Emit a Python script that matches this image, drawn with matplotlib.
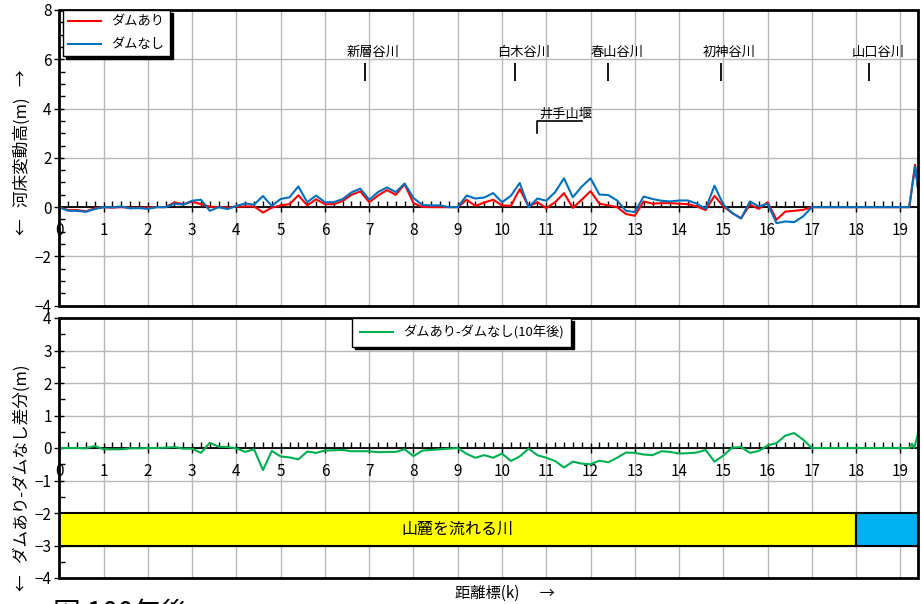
import numpy as np
import matplotlib
matplotlib.use("Agg")
import matplotlib.pyplot as plt
from matplotlib.patches import Rectangle
from matplotlib.ticker import MultipleLocator

plt.rcParams["font.family"] = ["Noto Sans CJK JP", "DejaVu Sans"]
plt.rcParams["axes.unicode_minus"] = True

# distance stations (km), every 200 m
km = list(np.round(np.arange(0, 19.21, 0.2), 1))
km_top = km + [19.33, 19.45]
km_diff = km + [19.26, 19.31, 19.4]

zeros_tail = [0.0] * 11  # 17.2 .. 19.2 km

with_dam = [0.0, -0.12, -0.12, -0.17, -0.05,
            0.0, -0.02, 0.0, -0.03, -0.03,
            -0.02, 0.0, 0.0, 0.19, 0.12,
            0.22, 0.12, 0.02, 0.0, -0.02,
            0.02, 0.03, 0.03, -0.22, -0.02,
            0.07, 0.12, 0.48, 0.07, 0.32,
            0.12, 0.12, 0.25, 0.5, 0.64,
            0.2, 0.47, 0.69, 0.5, 0.93,
            0.16, 0.01, 0.0, 0.0, 0.0,
            0.0, 0.3, 0.05, 0.19, 0.3,
            0.07, 0.05, 0.73, 0.03, 0.2,
            -0.04, 0.2, 0.57, -0.03, 0.3,
            0.65, 0.14, 0.07, 0.0, -0.28,
            -0.35, 0.23, 0.14, 0.16, 0.16,
            0.14, 0.12, 0.03, -0.12, 0.46,
            0.03, -0.24, -0.45, 0.1, -0.07,
            0.2, -0.51, -0.18, -0.15, -0.11,
            0.0] + zeros_tail + [1.72, 0.0]

without_dam = [0.0, -0.15, -0.15, -0.19, -0.08,
               0.0, -0.01, 0.03, -0.05, -0.04,
               -0.07, 0.0, 0.0, 0.14, 0.1,
               0.26, 0.3, -0.15, 0.0, -0.08,
               0.05, 0.15, 0.1, 0.45, 0.05,
               0.33, 0.4, 0.84, 0.2, 0.47,
               0.2, 0.2, 0.33, 0.6, 0.75,
               0.3, 0.61, 0.8, 0.61, 0.96,
               0.37, 0.09, 0.07, 0.07, 0.0,
               0.0, 0.47, 0.35, 0.39, 0.57,
               0.2, 0.46, 0.98, 0.0, 0.35,
               0.26, 0.61, 1.17, 0.4, 0.83,
               1.17, 0.51, 0.49, 0.27, -0.15,
               -0.2, 0.43, 0.33, 0.26, 0.23,
               0.27, 0.27, 0.14, -0.07, 0.87,
               0.1, -0.24, -0.46, 0.23, 0.03,
               0.14, -0.65, -0.58, -0.61, -0.38,
               0.0] + zeros_tail + [1.65, 0.0]

diff = [0.0, 0.0, 0.0, -0.01, 0.06,
        -0.04, -0.04, -0.04, -0.01, -0.01,
        0.0, 0.0, 0.01, 0.03, -0.02,
        -0.02, -0.15, 0.16, 0.04, 0.03,
        -0.01, -0.12, -0.04, -0.68, -0.09,
        -0.26, -0.29, -0.35, -0.11, -0.15,
        -0.08, -0.07, -0.06, -0.1, -0.1,
        -0.1, -0.13, -0.12, -0.12, -0.04,
        -0.25, -0.08, -0.06, -0.04, -0.02,
        0.0, -0.18, -0.3, -0.22, -0.3,
        -0.17, -0.4, -0.26, -0.02, -0.22,
        -0.3, -0.4, -0.6, -0.42, -0.48,
        -0.5, -0.39, -0.44, -0.3, -0.14,
        -0.15, -0.2, -0.22, -0.1, -0.12,
        -0.17, -0.16, -0.14, -0.06, -0.42,
        -0.23, 0.01, 0.03, -0.15, -0.09,
        0.08, 0.15, 0.38, 0.46, 0.26,
        0.0] + zeros_tail + [0.13, 0.0, 0.45]

# tributaries and weir
trib_names = ["新層谷川", "白木谷川", "春山谷川", "初神谷川", "山口谷川"]
trib_km = [6.9, 10.29, 12.39, 14.94, 18.29]
weir_name = "井手山堰"
weir_km = 10.78
weir_end = 11.8

# river character band
zone_names = ["山麓を流れる川", ""]
zone_start = [0, 18]
zone_end = [18, 19.4]
zone_colors = ["#FFFF00", "#00B0F0"]

XMAX = 19.39
W, H = 921, 604
fig = plt.figure(figsize=(W / 100, H / 100), dpi=100)


def px_axes(left, top, right, bottom):
    return fig.add_axes([left / W, 1 - bottom / H, (right - left) / W, (bottom - top) / H])


def style_axes(ax, ymin, ymax, ymajor):
    ax.set_xlim(0, XMAX)
    ax.set_ylim(ymin, ymax)
    ax.xaxis.set_major_locator(MultipleLocator(1))
    ax.xaxis.set_minor_locator(MultipleLocator(0.2))
    ax.yaxis.set_major_locator(MultipleLocator(ymajor))
    ax.yaxis.set_minor_locator(MultipleLocator(0.5))
    ax.grid(True, which="major", color="#b8b8b8", lw=1.0)
    ax.set_axisbelow(True)
    ax.spines["bottom"].set_position(("data", 0))
    ax.spines["bottom"].set_linewidth(1.3)
    for s in ["top", "right", "left"]:
        ax.spines[s].set_visible(False)
    ax.add_patch(Rectangle((0, 0), 1, 1, transform=ax.transAxes, fill=False,
                           edgecolor="black", lw=2.0, clip_on=False, zorder=5))
    ax.tick_params(axis="x", which="major", direction="inout", length=7, width=1,
                   pad=7, labelsize=11)
    ax.tick_params(axis="x", which="minor", direction="in", length=4, width=1)
    ax.tick_params(axis="y", which="major", direction="inout", length=7, width=1,
                   labelsize=11, pad=2)
    ax.tick_params(axis="y", which="minor", direction="in", length=4, width=1)
    ax.set_xticks(range(0, 20))
    ax.set_xticklabels([str(i) for i in range(0, 20)])


# ---- top panel: bed variation
ax1 = px_axes(59.3, 10, 917.7, 305.7)
style_axes(ax1, -4, 8, 2)
ax1.plot(km_top, with_dam, color="#FF0000", lw=1.5, label="ダムあり", zorder=3)
ax1.plot(km_top, without_dam, color="#0070C0", lw=1.5, label="ダムなし", zorder=3)

ax1.vlines(trib_km, 5.1, 5.85, color="black", lw=1.3)
for name, k in zip(trib_names, trib_km):
    ax1.text(k + 0.2, 6.3, name, ha="center", va="center", fontsize=9.5)
ax1.plot([weir_km, weir_km, weir_end], [3.0, 3.5, 3.5], color="black", lw=1.2)
ax1.text((weir_km + weir_end) / 2 + 0.15, 3.75, weir_name, ha="center", va="center",
         fontsize=9.5)

leg1 = ax1.legend(loc="upper left", bbox_to_anchor=(0.004, 1.0), fontsize=9.5,
                  frameon=True, fancybox=False, handlelength=2.5, borderpad=0.4,
                  labelspacing=0.75, borderaxespad=0.0,
                  shadow={"color": "black", "alpha": 1.0})
leg1.get_frame().set_edgecolor("black")
leg1.get_frame().set_linewidth(1.0)

# ---- bottom panel: difference
ax2 = px_axes(59.3, 318, 917.7, 578)
style_axes(ax2, -4, 4, 1)
ax2.plot(km_diff, diff, color="#00B050", lw=1.5, label="ダムあり-ダムなし(10年後)", zorder=3)
for name, a, b, c in zip(zone_names, zone_start, zone_end, zone_colors):
    ax2.add_patch(Rectangle((a, -3), b - a, 1, facecolor=c, edgecolor="black",
                            lw=1.5, zorder=4, clip_on=True))
    if name:
        ax2.text((a + b) / 2, -2.5, name, ha="center", va="center", fontsize=11.5, zorder=6)

leg2 = ax2.legend(loc="upper center", bbox_to_anchor=(0.469, 1.0), fontsize=9.5,
                  frameon=True, fancybox=False, handlelength=2.5, borderpad=0.55,
                  borderaxespad=0.0, shadow={"color": "black", "alpha": 1.0})
leg2.get_frame().set_edgecolor("black")
leg2.get_frame().set_linewidth(1.0)

# ---- labels
fig.text(22 / W, 1 - 152 / H, "←   河床変動高(m)   →", rotation=90,
         ha="center", va="center", fontsize=12)
fig.text(22 / W, 1 - 478 / H, "←   ダムあり-ダムなし差分(m)", rotation=90,
         ha="center", va="center", fontsize=12)
fig.text(455 / W, 1 - 593 / H, "距離標(k)      →", ha="left", va="center", fontsize=11)

# neighbouring figure captions, cut by the page edge
fig.text(75 / W, 1 - 4 / H, "図 10年後", ha="left", va="bottom", fontsize=20)
fig.text(53 / W, 1 - 599 / H, "図 100年後", ha="left", va="top", fontsize=20)

fig.savefig("out.png", dpi=100)
